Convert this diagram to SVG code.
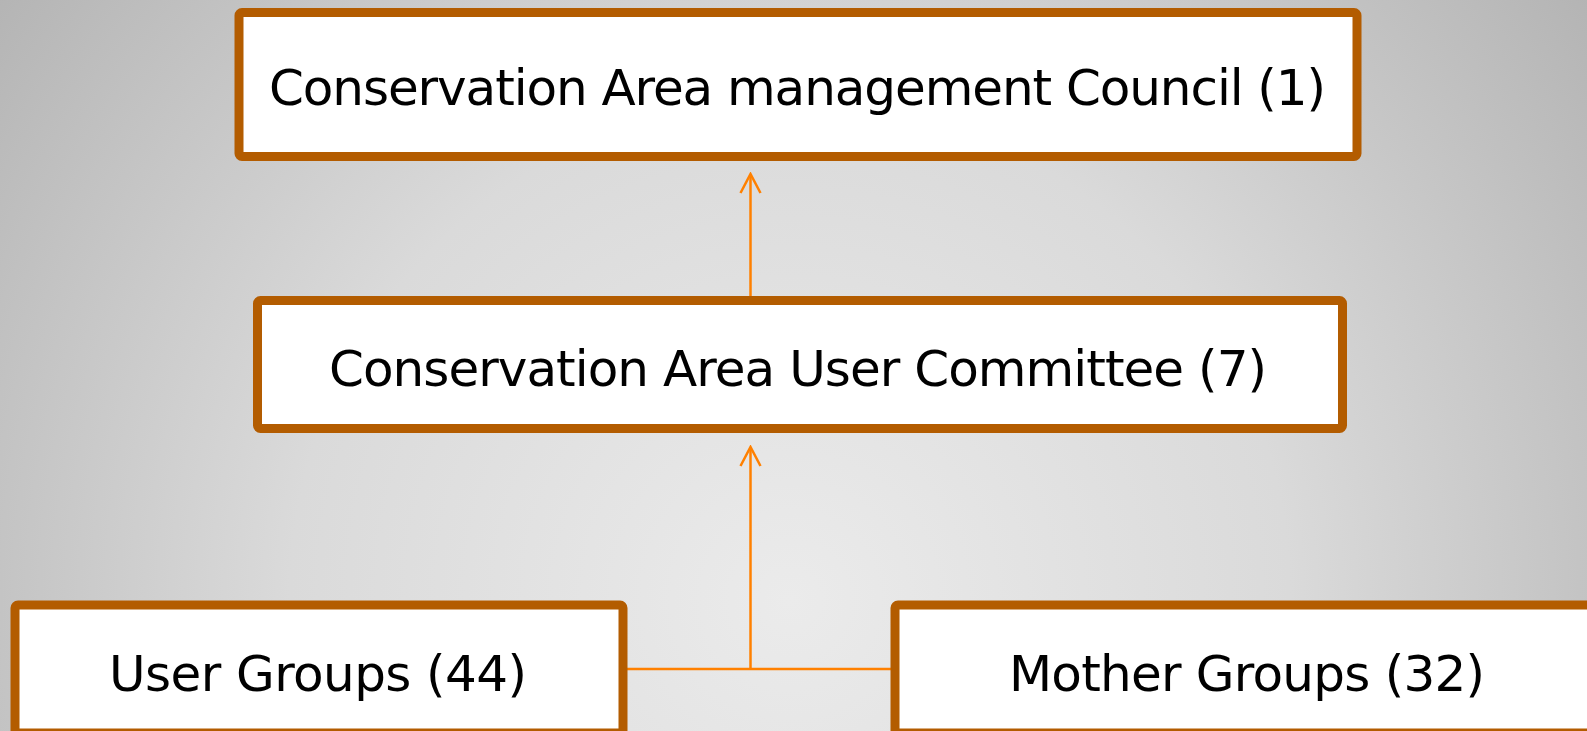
<svg xmlns="http://www.w3.org/2000/svg" width="1587" height="731" viewBox="0 0 1587 731">
<defs>
<radialGradient id="bg" gradientUnits="userSpaceOnUse" cx="790" cy="600" r="1000">
<stop offset="0" stop-color="#ebebeb"/>
<stop offset="0.5" stop-color="#dadada"/>
<stop offset="1" stop-color="#b4b4b4"/>
</radialGradient>
<marker id="arr" markerUnits="userSpaceOnUse" markerWidth="30" markerHeight="30" viewBox="-15 -2 30 30" refX="0" refY="0" orient="0">
<path d="M-10,19 L0,0 L10,19" fill="none" stroke="#ff8000" stroke-width="2.5"/>
</marker>
<style>
.box{fill:#ffffff;stroke:#b35c00;stroke-width:9;}
.lbl{font-family:"DejaVu Sans","Verdana",sans-serif;font-size:50px;fill:#000000;text-anchor:middle;}
.con{fill:none;stroke:#ff8000;stroke-width:2.5;}
</style>
</defs>
<rect x="0" y="0" width="1587" height="731" fill="url(#bg)"/>
<g id="connectors">
<line class="con" x1="750.5" y1="301" x2="750.5" y2="174" marker-end="url(#arr)"/>
<line class="con" x1="750.5" y1="669" x2="750.5" y2="447" marker-end="url(#arr)"/>
<line class="con" x1="623" y1="669" x2="895" y2="669"/>
</g>
<g id="node-council">
<rect class="box" x="239" y="12.5" width="1118" height="144" rx="3"/>
<text class="lbl" x="797.5" y="105" textLength="1057" lengthAdjust="spacing">Conservation Area management Council (1)</text>
</g>
<g id="node-committee">
<rect class="box" x="257.5" y="300.5" width="1085" height="128" rx="3"/>
<text class="lbl" x="798" y="386" textLength="938" lengthAdjust="spacing">Conservation Area User Committee (7)</text>
</g>
<g id="node-user-groups">
<rect class="box" x="15" y="605" width="608" height="128" rx="3"/>
<text class="lbl" x="318" y="691" textLength="418" lengthAdjust="spacing">User Groups (44)</text>
</g>
<g id="node-mother-groups">
<rect class="box" x="895" y="605" width="710" height="128" rx="3"/>
<text class="lbl" x="1247" y="691" textLength="476" lengthAdjust="spacing">Mother Groups (32)</text>
</g>
</svg>
